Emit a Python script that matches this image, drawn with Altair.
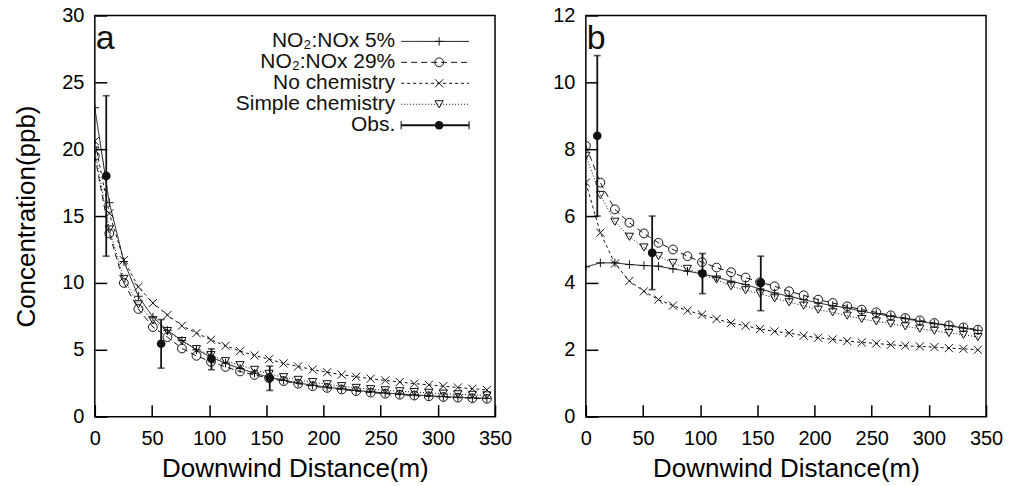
import altair as alt
import pandas as pd

# ---------------- data ----------------
DIST = [0, 12.7, 25.4, 38.1, 50.8, 63.5, 76.2, 88.9, 101.6, 114.3, 127.0, 139.7,
        152.4, 165.1, 177.8, 190.5, 203.2, 215.9, 228.6, 241.3, 254.0, 266.7,
        279.4, 292.1, 304.8, 317.5, 330.2, 342.9]

SERIES = ["NO₂:NOx 5%", "NO₂:NOx 29%", "No chemistry", "Simple chemistry"]
OBS_LABEL = "Obs."
PANEL_TAGS = ["a", "b"]

# panel a
A_NO2_5 = [23.1, 16.0, 11.6, 9.0, 7.45, 6.45, 5.7, 5.0, 4.45, 4.0, 3.6, 3.25, 2.95,
           2.72, 2.52, 2.35, 2.2, 2.08, 1.96, 1.86, 1.77, 1.69, 1.62, 1.56, 1.5,
           1.45, 1.41, 1.37]
A_NO2_29 = [19.5, 13.7, 10.0, 8.05, 6.7, 5.95, 5.1, 4.55, 4.1, 3.72, 3.38, 3.12, 2.88,
            2.66, 2.46, 2.28, 2.15, 2.03, 1.91, 1.8, 1.72, 1.64, 1.58, 1.52, 1.47,
            1.42, 1.38, 1.34]
A_NOCHEM = [20.6, 15.2, 11.7, 9.7, 8.5, 7.6, 6.8, 6.25, 5.75, 5.3, 4.9, 4.58, 4.3,
            3.98, 3.75, 3.52, 3.32, 3.14, 2.98, 2.84, 2.71, 2.59, 2.47, 2.38, 2.28,
            2.18, 2.09, 2.0]
A_SIMPLE = [19.9, 14.0, 10.3, 8.4, 7.2, 6.4, 5.65, 5.05, 4.6, 4.15, 3.85, 3.5, 3.2,
            2.95, 2.75, 2.58, 2.42, 2.28, 2.15, 2.05, 1.97, 1.9, 1.84, 1.78, 1.72,
            1.67, 1.63, 1.59]

# panel b
B_NO2_5 = [4.48, 4.6, 4.6, 4.55, 4.52, 4.5, 4.42, 4.35, 4.27, 4.17, 4.05, 3.95, 3.82,
           3.7, 3.6, 3.5, 3.4, 3.32, 3.25, 3.15, 3.08, 3.0, 2.93, 2.85, 2.78, 2.72,
           2.65, 2.58]
B_NO2_29 = [8.1, 7.0, 6.2, 5.8, 5.48, 5.2, 5.0, 4.8, 4.62, 4.46, 4.32, 4.16, 4.02,
            3.9, 3.75, 3.63, 3.5, 3.4, 3.3, 3.2, 3.12, 3.03, 2.95, 2.88, 2.8, 2.73,
            2.67, 2.6]
B_NOCHEM = [7.0, 5.5, 4.58, 4.06, 3.75, 3.5, 3.32, 3.17, 3.05, 2.92, 2.8, 2.72, 2.62,
            2.55, 2.5, 2.42, 2.36, 2.31, 2.26, 2.22, 2.19, 2.15, 2.12, 2.1, 2.08,
            2.05, 2.03, 2.0]
B_SIMPLE = [7.8, 6.63, 5.83, 5.38, 5.06, 4.8, 4.6, 4.42, 4.25, 4.1, 3.9, 3.78, 3.68,
            3.54, 3.42, 3.32, 3.2, 3.12, 3.02, 2.92, 2.85, 2.78, 2.7, 2.63, 2.57,
            2.5, 2.45, 2.38]

OBS_X = [10, 58, 102, 153]
A_OBS = [18.0, 5.45, 4.33, 2.89]
A_LO = [12.0, 3.63, 3.51, 1.96]
A_HI = [24.0, 7.26, 5.07, 3.78]
B_OBS = [8.4, 4.9, 4.28, 4.0]
B_LO = [6.0, 3.8, 3.68, 3.17]
B_HI = [10.8, 6.0, 4.88, 4.8]

X_TICKS = [0, 50, 100, 150, 200, 250, 300, 350]
A_Y_TICKS = [0, 5, 10, 15, 20, 25, 30]
B_Y_TICKS = [0, 2, 4, 6, 8, 10, 12]

# ---------------- styles ----------------
FONT = "Liberation Sans"
INK = "#111111"
W, H = 401, 402
PLUS = "M-1,0L1,0M0,-1L0,1"
CROSS = "M-1,-1L1,1M-1,1L1,-1"
STYLE = {
    SERIES[0]: dict(dash=[1, 0], shape=PLUS, size=72),
    SERIES[1]: dict(dash=[6, 4], shape="circle", size=78),
    SERIES[2]: dict(dash=[3, 3], shape=CROSS, size=66),
    SERIES[3]: dict(dash=[1, 2], shape="triangle-down", size=68),
}


def panel(series_vals, obs, lo, hi, ymax, yticks, ytitle, tag, with_legend):
    rows = []
    for s, vals in zip(SERIES, series_vals):
        for d, v in zip(DIST, vals):
            rows.append({"d": d, "c": v, "s": s})
    df = pd.DataFrame(rows)
    obs_df = pd.DataFrame({"d": OBS_X, "c": obs, "lo": lo, "hi": hi})

    xaxis = alt.Axis(values=X_TICKS, title="Downwind Distance(m)", offset=-12,
                     tickSize=12, domain=False, grid=False, labelPadding=12,
                     titlePadding=7, labelFlush=False, labelOverlap=False)
    yaxis_kw = dict(values=yticks, offset=-12, tickSize=12, domain=False,
                    grid=False, labelPadding=11, titlePadding=22,
                    labelFlush=False, labelOverlap=False)
    if ytitle:
        yaxis = alt.Axis(title=ytitle, **yaxis_kw)
    else:
        yaxis = alt.Axis(title=None, **yaxis_kw)
    xs = alt.Scale(domain=[0, 350], nice=False, zero=False)
    ys = alt.Scale(domain=[0, ymax], nice=False)

    def X(f="d"):
        return alt.X(f"{f}:Q", scale=xs, axis=xaxis)

    def Y(f="c"):
        return alt.Y(f"{f}:Q", scale=ys, axis=yaxis)

    layers = []
    for s in SERIES:
        st = STYLE[s]
        base = alt.Chart(df).transform_filter(alt.datum.s == s)
        layers.append(base.mark_line(stroke=INK, strokeWidth=1,
                                     strokeDash=st["dash"], clip=True)
                      .encode(x=X(), y=Y()))
        layers.append(base.mark_point(shape=st["shape"], filled=False, stroke=INK,
                                      strokeWidth=1, size=st["size"], opacity=1,
                                      clip=True)
                      .encode(x=X(), y=Y()))
    ob = alt.Chart(obs_df)
    layers.append(ob.mark_rule(stroke=INK, strokeWidth=1.8)
                  .encode(x=X(), y=Y("lo"), y2="hi:Q"))
    layers.append(ob.mark_tick(orient="horizontal", size=7, thickness=1.6, color=INK)
                  .encode(x=X(), y=Y("lo")))
    layers.append(ob.mark_tick(orient="horizontal", size=7, thickness=1.6, color=INK)
                  .encode(x=X(), y=Y("hi")))
    layers.append(ob.mark_point(shape="circle", filled=True, fill=INK, size=75,
                                opacity=1)
                  .encode(x=X(), y=Y()))
    data_layer = alt.layer(*layers)

    tag_df = pd.DataFrame({"t": [tag]})
    deco = [alt.Chart(tag_df).mark_text(align="left", baseline="alphabetic",
                                        fontSize=34, font=FONT, color=INK)
            .encode(x=alt.value(1), y=alt.value(34), text="t:N")]

    if with_legend:
        labels = SERIES + [OBS_LABEL]
        leg_df = pd.DataFrame({"label": labels, "row": list(range(len(labels)))})
        ly = alt.Y("row:Q", scale=alt.Scale(domain=[0, len(labels) - 1],
                                            range=[26, 110], nice=False, zero=False),
                   axis=None)
        lb = alt.Chart(leg_df)
        deco.append(lb.mark_text(align="right", baseline="middle", fontSize=21,
                                 font=FONT, color=INK)
                    .encode(x=alt.value(301), y=ly, text="label:N"))
        for s in SERIES:
            st = STYLE[s]
            f = lb.transform_filter(alt.datum.label == s)
            deco.append(f.mark_rule(stroke=INK, strokeWidth=1, strokeDash=st["dash"])
                        .encode(x=alt.value(307), x2=alt.value(375), y=ly))
            deco.append(f.mark_point(shape=st["shape"], filled=False, stroke=INK,
                                     strokeWidth=1, size=st["size"], opacity=1)
                        .encode(x=alt.value(345), y=ly))
        f = lb.transform_filter(alt.datum.label == OBS_LABEL)
        deco.append(f.mark_rule(stroke=INK, strokeWidth=1.8)
                    .encode(x=alt.value(307), x2=alt.value(375), y=ly))
        for xv in (307, 375):
            deco.append(f.mark_tick(orient="vertical", size=8, thickness=1.6,
                                    color=INK)
                        .encode(x=alt.value(xv), y=ly))
        deco.append(f.mark_point(shape="circle", filled=True, fill=INK, size=75,
                                 opacity=1)
                    .encode(x=alt.value(345), y=ly))
    deco_layer = alt.layer(*deco)
    return (alt.layer(data_layer, deco_layer)
            .resolve_scale(y="independent")
            .properties(width=W, height=H))


pa = panel([A_NO2_5, A_NO2_29, A_NOCHEM, A_SIMPLE], A_OBS, A_LO, A_HI, 30,
           A_Y_TICKS, "Concentration(ppb)", PANEL_TAGS[0], True)
pb = panel([B_NO2_5, B_NO2_29, B_NOCHEM, B_SIMPLE], B_OBS, B_LO, B_HI, 12,
           B_Y_TICKS, None, PANEL_TAGS[1], False)

chart = (alt.hconcat(pa, pb, spacing=39)
         .properties(padding={"left": 13, "top": 4, "right": 5, "bottom": 0})
         .configure(font=FONT)
         .configure_view(stroke="black", strokeWidth=1.5)
         .configure_axis(labelFont=FONT, titleFont=FONT, labelFontSize=20,
                         titleFontSize=26, titleFontWeight="normal",
                         labelColor="black", titleColor="black",
                         tickColor="black", tickWidth=1.5))

chart.save("out.html", embed_options={"renderer": "svg", "actions": False})
